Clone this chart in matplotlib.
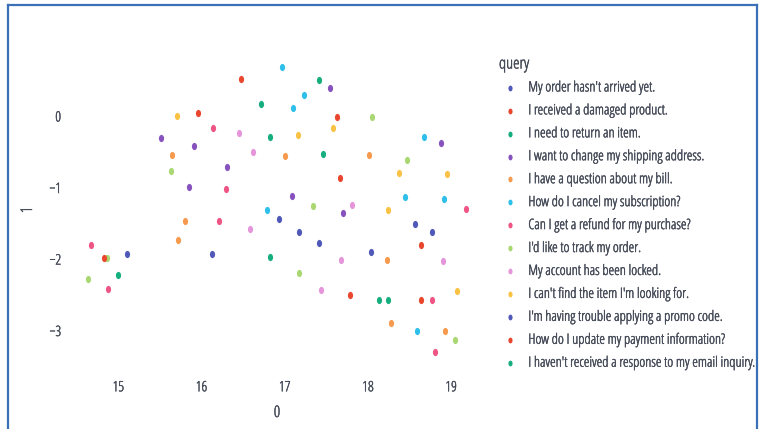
import matplotlib
matplotlib.use("Agg")
import matplotlib.pyplot as plt
import matplotlib.patheffects as pe
from matplotlib.lines import Line2D
from matplotlib.markers import MarkerStyle
from matplotlib.transforms import Affine2D
from matplotlib.font_manager import FontProperties

plt.rcParams['font.family'] = ['Open Sans', 'DejaVu Sans']
plt.rcParams['font.stretch'] = 'condensed'

queries = [
    "My order hasn't arrived yet.",
    "I received a damaged product.",
    "I need to return an item.",
    "I want to change my shipping address.",
    "I have a question about my bill.",
    "How do I cancel my subscription?",
    "Can I get a refund for my purchase?",
    "I'd like to track my order.",
    "My account has been locked.",
    "I can't find the item I'm looking for.",
    "I'm having trouble applying a promo code.",
    "How do I update my payment information?",
    "I haven't received a response to my email inquiry.",
]

# 2-D embedding coordinates (component 0, component 1) for each query
x_vals = [
    [15.11, 16.13, 16.93, 17.17],
    [16.47, 15.96, 17.63, 17.66],
    [17.41, 16.71, 16.82, 17.46],
    [17.54, 15.51, 15.91, 16.31, 15.85, 17.09, 17.70, 18.88],
    [15.65, 17.00, 18.01, 15.80, 15.72, 18.23, 18.28, 18.93],
    [16.97, 17.23, 17.10, 16.79, 18.67, 18.45, 18.92, 18.59],
    [16.14, 16.29, 16.21, 14.67, 14.88, 19.18, 18.77, 18.81],
    [18.05, 15.63, 17.34, 18.47, 14.86, 14.64, 17.17, 19.05],
    [16.45, 16.62, 17.81, 16.58, 17.68, 18.90, 17.44],
    [15.71, 17.58, 17.16, 18.37, 18.95, 18.24, 19.07],
    [17.41, 18.04, 18.57, 18.77],
    [18.64, 14.83, 17.78, 18.64],
    [16.82, 15.00, 18.13, 18.24],
]
y_vals = [
    [-1.93, -1.93, -1.44, -1.62],
    [0.52, 0.04, -0.01, -0.87],
    [0.50, 0.17, -0.29, -0.53],
    [0.39, -0.31, -0.42, -0.71, -0.99, -1.12, -1.36, -0.38],
    [-0.55, -0.56, -0.55, -1.47, -1.73, -2.01, -2.90, -3.01],
    [0.69, 0.29, 0.11, -1.31, -0.29, -1.13, -1.16, -3.01],
    [-0.17, -1.02, -1.47, -1.80, -2.42, -1.30, -2.57, -3.30],
    [-0.01, -0.77, -1.26, -0.62, -1.99, -2.28, -2.20, -3.13],
    [-0.24, -0.50, -1.25, -1.58, -2.01, -2.03, -2.43],
    [0.00, -0.17, -0.27, -0.80, -0.81, -1.31, -2.45],
    [-1.78, -1.90, -1.51, -1.62],
    [-1.80, -1.99, -2.50, -2.57],
    [-1.97, -2.22, -2.57, -2.57],
]

palette = ["#5059B8", "#E8472E", "#16AE7E", "#8752BE", "#F59A4E",
           "#2EC0EA", "#EE5585", "#A9D873", "#E596DA", "#F9C244"]
text_color = "#444a57"
thicken = [pe.withStroke(linewidth=0.3, foreground=text_color)]

fig = plt.figure(figsize=(7.6, 4.29), dpi=100)
W, H = 760, 429
ax = fig.add_axes([68 / W, 1 - 372 / H, (485 - 68) / W, (372 - 45) / H])

dot = MarkerStyle('o', transform=Affine2D().scale(0.72, 1.0))
for i, q in enumerate(queries):
    ax.scatter(x_vals[i], y_vals[i], s=27, marker=dot,
               color=palette[i % len(palette)], linewidths=0, label=q, zorder=3)

ax.set_xlim(14.395, 19.407)
ax.set_ylim(-3.58, 0.993)
ax.set_xticks([15, 16, 17, 18, 19])
ax.set_yticks([0, -1, -2, -3])
ax.set_yticklabels(["0", "\u22121", "\u22122", "\u22123"])
for s in ax.spines.values():
    s.set_visible(False)
ax.tick_params(length=0, labelsize=10.3, colors=text_color)
ax.tick_params(axis='x', pad=6)
ax.tick_params(axis='y', pad=5)
for lab in ax.get_xticklabels() + ax.get_yticklabels():
    lab.set_path_effects(thicken)
ax.set_xlabel("0", fontsize=11.5, color=text_color, va='center', path_effects=thicken)
ax.set_ylabel("1", fontsize=11.5, color=text_color, va='center', path_effects=thicken)
ax.xaxis.set_label_coords((277 - 68) / 417, (372 - 413) / 327)
ax.yaxis.set_label_coords((28 - 68) / 417, (372 - 210) / 327)

leg_font = FontProperties(family=['Open Sans', 'DejaVu Sans'], stretch='condensed', size=10.3)
title_font = FontProperties(family=['Open Sans', 'DejaVu Sans'], stretch='condensed', size=11.8)
leg = fig.legend(loc='upper left', bbox_to_anchor=(499 / W, 1 - 56.5 / H),
                 frameon=False, title="query", prop=leg_font,
                 title_fontproperties=title_font, alignment='left',
                 handletextpad=0.45, handlelength=1.6, labelspacing=0.555,
                 borderaxespad=0, borderpad=0, markerscale=0.8)
leg.get_title().set_color(text_color)
leg.get_title().set_path_effects(thicken)
for t in leg.get_texts():
    t.set_color(text_color)
    t.set_path_effects(thicken)

# outer frame
frame_col = "#3b6fb6"
fig.add_artist(Line2D([8 / W, 8 / W], [0, 1 - 5 / H], color=frame_col, lw=1.6,
                      transform=fig.transFigure))
fig.add_artist(Line2D([8 / W, 757 / W], [1 - 5 / H, 1 - 5 / H], color=frame_col, lw=1.6,
                      transform=fig.transFigure))
fig.add_artist(Line2D([757 / W, 757 / W], [0, 1 - 5 / H], color=frame_col, lw=1.6,
                      transform=fig.transFigure))

fig.savefig("out.png", dpi=100)
